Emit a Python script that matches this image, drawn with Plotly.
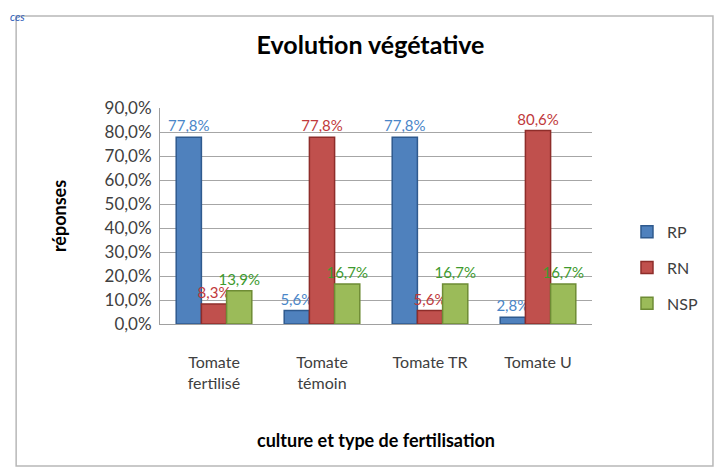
import plotly.graph_objects as go

categories = ["Tomate<br>fertilisé", "Tomate<br>témoin", "Tomate TR", "Tomate U"]
series_names = ["RP", "RN", "NSP"]
rp = [77.8, 5.6, 77.8, 2.8]
rn = [8.3, 77.8, 5.6, 80.6]
nsp = [13.9, 16.7, 16.7, 16.7]
y_ticks = [0, 10, 20, 30, 40, 50, 60, 70, 80, 90]
y_tick_text = [f"{v:.1f}%".replace(".", ",") for v in y_ticks]

bar_colors = ["#4F81BD", "#C0504D", "#9BBB59"]
edge_colors = ["#2F5A8E", "#8E2D2A", "#6E8C35"]
label_colors = ["#4A86C8", "#C0393B", "#3E9A2E"]

FONT = "Lato, 'Open Sans', sans-serif"

fig = go.Figure()
for name, vals, c, e, lc in zip(series_names, [rp, rn, nsp], bar_colors, edge_colors, label_colors):
    fig.add_trace(go.Bar(
        x=categories, y=vals, name=name, legendgroup=name,
        marker=dict(color=c, line=dict(color=e, width=1.5)),
        text=[f"{v:.1f}%".replace(".", ",") for v in vals],
        textposition="outside", cliponaxis=False, constraintext="none",
        textfont=dict(color=lc, size=15, family=FONT),
    ))

fig.update_layout(
    width=725, height=472,
    margin=dict(l=152, r=141, t=100, b=156),
    paper_bgcolor="white", plot_bgcolor="white",
    barmode="group", bargap=0.3, bargroupgap=0.0,
    separators=", ",
    font=dict(family=FONT, color="#404040", size=14),
    title=dict(text="<b>Evolution végétative</b>", x=0.5, xanchor="center", y=0.922, yanchor="middle",
               font=dict(size=25, family=FONT, color="#000000")),
    showlegend=True,
    legend=dict(x=1.081, y=0.26, xanchor="left", yanchor="middle", tracegroupgap=12,
                font=dict(size=16, family=FONT, color="#404040"), itemwidth=30),
    xaxis=dict(showline=True, linecolor="#A0A0A0", tickfont=dict(size=16, color="#404040"),
               automargin=False, ticklabelstandoff=24,
               title=dict(text="<b>culture et type de fertilisation</b>", standoff=43,
                          font=dict(size=18, color="#000000"))),
    yaxis=dict(range=[0, 90], tickvals=y_ticks, ticktext=y_tick_text,
               showgrid=True, gridcolor="#A6A6A6", gridwidth=1, showline=True, linecolor="#A0A0A0",
               tickfont=dict(size=17, color="#404040"), zeroline=False, automargin=False,
               ticklabelstandoff=4,
               title=dict(text="<b>réponses</b>", standoff=33, font=dict(size=18, color="#000000"))),
    shapes=[dict(type="rect", xref="paper", yref="paper", x0=-0.333, x1=1.28, y0=-0.657, y1=1.426,
                 line=dict(color="#B8B8B8", width=1.5), fillcolor="rgba(0,0,0,0)", layer="below")],
    annotations=[dict(text="<i>ces</i>", xref="paper", yref="paper", x=-0.352, y=1.463,
                      xanchor="left", yanchor="top", showarrow=False,
                      font=dict(size=11, color="#2E5CB8", family=FONT))],
)

fig.write_html("out.html")
